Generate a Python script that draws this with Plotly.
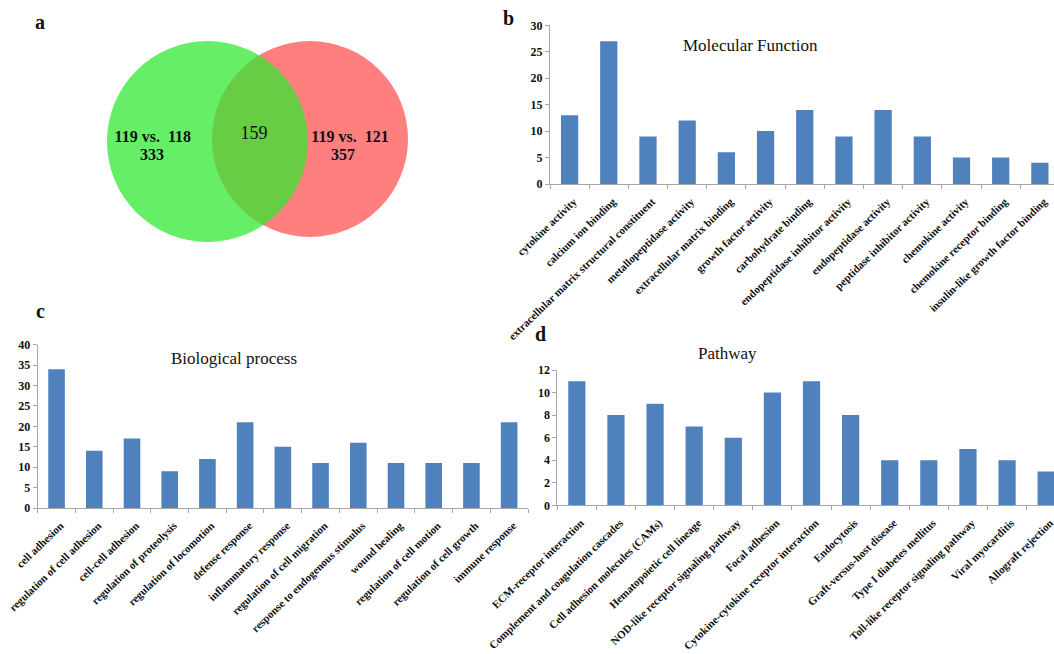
import plotly.graph_objects as go

W, H = 1054, 654

# ---------------- data ----------------
mf_categories = ["cytokine activity", "calcium ion binding",
                 "extracellular matrix structural constituent", "metallopeptidase activity",
                 "extracellular matrix binding", "growth factor activity", "carbohydrate binding",
                 "endopeptidase inhibitor activity", "endopeptidase activity",
                 "peptidase inhibitor activity", "chemokine activity",
                 "chemokine receptor binding", "insulin-like growth factor binding"]
mf_values = [13, 27, 9, 12, 6, 10, 14, 9, 14, 9, 5, 5, 4]

bp_categories = ["cell adhesion", "regulation of cell adhesion", "cell-cell adhesion",
                 "regulation of proteolysis", "regulation of locomotion", "defense response",
                 "inflammatory response", "regulation of cell migration",
                 "response to endogenous stimulus", "wound healing",
                 "regulation of cell motion", "regulation of cell growth", "immune response"]
bp_values = [34, 14, 17, 9, 12, 21, 15, 11, 16, 11, 11, 11, 21]

pw_categories = ["ECM-receptor interaction", "Complement and coagulation cascades",
                 "Cell adhesion molecules (CAMs)", "Hematopoietic cell lineage",
                 "NOD-like receptor signaling pathway", "Focal adhesion",
                 "Cytokine-cytokine receptor interaction", "Endocytosis",
                 "Graft-versus-host disease", "Type I diabetes mellitus",
                 "Toll-like receptor signaling pathway", "Viral myocarditis",
                 "Allograft rejection"]
pw_values = [11, 8, 9, 7, 6, 10, 11, 8, 4, 4, 5, 4, 3]

venn_set_labels = ["119 vs.  118", "119 vs.  121"]
venn_counts = [333, 159, 357]  # left only, shared, right only

# ---------------- style ----------------
BAR = "#4F81BD"
AXC = "#A6A6A6"
SERIF = "Liberation Serif, Times New Roman, serif"


def px_x(x):
    return x / W


def px_y(y):
    return 1 - y / H


fig = go.Figure()

fig.add_trace(go.Bar(x=mf_categories, y=mf_values, marker=dict(color=BAR, line=dict(width=0)),
                     xaxis="x", yaxis="y", showlegend=False))
fig.add_trace(go.Bar(x=bp_categories, y=bp_values, marker=dict(color=BAR, line=dict(width=0)),
                     xaxis="x2", yaxis="y2", showlegend=False))
fig.add_trace(go.Bar(x=pw_categories, y=pw_values, marker=dict(color=BAR, line=dict(width=0)),
                     xaxis="x3", yaxis="y3", showlegend=False))


def xaxis_style(domain, rng, anchor):
    return dict(domain=domain, range=rng, anchor=anchor, type="category",
                automargin=False,
                showline=True, linecolor=AXC, linewidth=1, ticks="outside",
                tickson="boundaries", ticklen=4, tickcolor=AXC, showgrid=False,
                tickangle=-44, zeroline=False, ticklabelshift=4, ticklabelstandoff=6,
                tickfont=dict(family=SERIF, size=11, color="#111", weight="bold"))


def yaxis_style(domain, rng, dtick, anchor):
    return dict(domain=domain, range=rng, anchor=anchor, dtick=dtick,
                automargin=False,
                showline=True, linecolor=AXC, linewidth=1, ticks="outside",
                ticklen=4, tickcolor=AXC, showgrid=False, zeroline=False,
                tickfont=dict(family=SERIF, size=12, color="#111", weight="bold"))


layout = dict(
    width=W, height=H, margin=dict(l=0, r=0, t=0, b=0, autoexpand=False),
    paper_bgcolor="white", plot_bgcolor="rgba(0,0,0,0)", bargap=0.56,
    xaxis=xaxis_style([px_x(550), 1], [-0.5, 12.36], "y"),
    yaxis=yaxis_style([px_y(184), px_y(25.3)], [0, 30], 5, "x"),
    xaxis2=xaxis_style([px_x(37.7), px_x(528)], [-0.5, 12.5], "y2"),
    yaxis2=yaxis_style([px_y(508), px_y(344.7)], [0, 40], 5, "x2"),
    xaxis3=xaxis_style([px_x(557.3), 1], [-0.5, 12.2], "y3"),
    yaxis3=yaxis_style([px_y(505.3), px_y(370)], [0, 12], 2, "x3"),
    xaxis4=dict(domain=[0, px_x(460)], range=[0, 460], visible=False, anchor="y4",
                automargin=False),
    yaxis4=dict(domain=[px_y(260), 1], range=[260, 0], visible=False, anchor="x4",
                automargin=False),
)
fig.update_layout(**layout)

# ---------------- Venn ----------------
fig.add_shape(type="circle", xref="x4", yref="y4", x0=212, x1=408, y0=41, y1=237,
              fillcolor="#FF7F7F", line=dict(width=0), layer="below")
fig.add_shape(type="circle", xref="x4", yref="y4", x0=107, x1=308, y0=41, y1=242,
              fillcolor="rgb(49,232,49)", opacity=0.74, line=dict(width=0), layer="below")

fig.add_trace(go.Scatter(
    x=[152.8, 152, 350, 343], y=[137.7, 155.7, 137.7, 155.7],
    text=[venn_set_labels[0], str(venn_counts[0]), venn_set_labels[1], str(venn_counts[2])],
    mode="text", textfont=dict(family=SERIF, size=16, color="#111", weight="bold"),
    xaxis="x4", yaxis="y4", showlegend=False, hoverinfo="skip"))
fig.add_trace(go.Scatter(
    x=[254], y=[134], text=[str(venn_counts[1])], mode="text",
    textfont=dict(family=SERIF, size=18, color="#111"),
    xaxis="x4", yaxis="y4", showlegend=False, hoverinfo="skip"))

# ---------------- annotations ----------------
def ann(text, x, y, size, bold=False):
    fig.add_annotation(text=text, x=px_x(x), y=px_y(y), xref="paper", yref="paper",
                       showarrow=False, xanchor="center", yanchor="middle",
                       font=dict(family=SERIF, size=size, color="#111",
                                 weight="bold" if bold else "normal"))

ann("a", 40, 22, 20, True)
ann("b", 508, 18, 20, True)
ann("c", 40, 311, 20, True)
ann("d", 540, 334, 20, True)
ann("Molecular Function", 750, 45, 17)
ann("Biological process", 234, 358, 17)
ann("Pathway", 727, 353, 17)

fig.write_html("out.html", config={"displayModeBar": False},
               post_script="document.body.style.margin='0';document.body.style.overflow='hidden';")
